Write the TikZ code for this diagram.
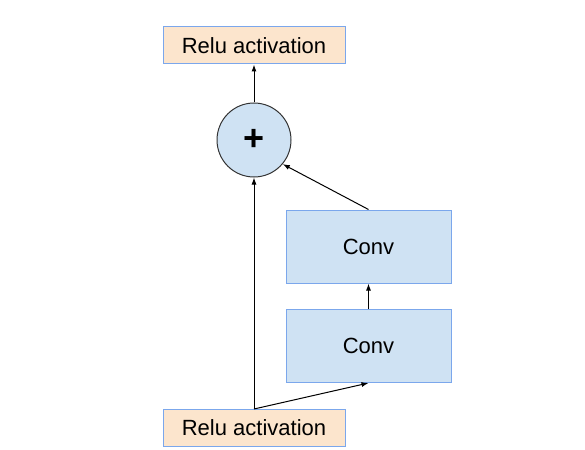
\documentclass[tikz,border=0pt]{standalone}
\usepackage{fontspec}
\setmainfont{Liberation Sans}
\usetikzlibrary{arrows.meta}
\definecolor{peach}{HTML}{FCE5CD}
\definecolor{lblue}{HTML}{CFE2F3}
\definecolor{bord}{HTML}{7BA7EC}
\begin{document}
\begin{tikzpicture}[x=1pt,y=-1pt,
  relubox/.style={draw=bord,line width=1pt,fill=peach,minimum width=182pt,minimum height=37pt,inner sep=0pt,font=\fontsize{22}{26}\selectfont},
  convbox/.style={draw=bord,line width=1pt,fill=lblue,minimum width=165pt,minimum height=73pt,inner sep=0pt,font=\fontsize{22}{26}\selectfont},
  sumnode/.style={circle,draw=black!80,line width=1pt,fill=lblue,minimum size=74pt,inner sep=0pt},
  conn/.style={line width=1pt,-{Latex[length=7pt,width=5pt]}}]
\useasboundingbox (0,0) rectangle (585,449);
\node[relubox] (top) at (254,45.5) {Relu activation};
\node[sumnode] (sum) at (254,140) {\bfseries\fontsize{36}{36}\selectfont +};
\node[convbox] (conv2) at (368.5,246.5) {Conv};
\node[convbox] (conv1) at (368.5,346) {Conv};
\node[relubox] (bot) at (254,428) {Relu activation};
\coordinate (split) at (bot.north);
\draw[conn] (sum.north) -- (top.south);
\draw[conn] (split) -- (sum.south);
\draw[conn] (split) -- (conv1.south);
\draw[conn] (conv1.north) -- (conv2.south);
\draw[conn] (conv2.north) -- (sum.-40);
\end{tikzpicture}
\end{document}
